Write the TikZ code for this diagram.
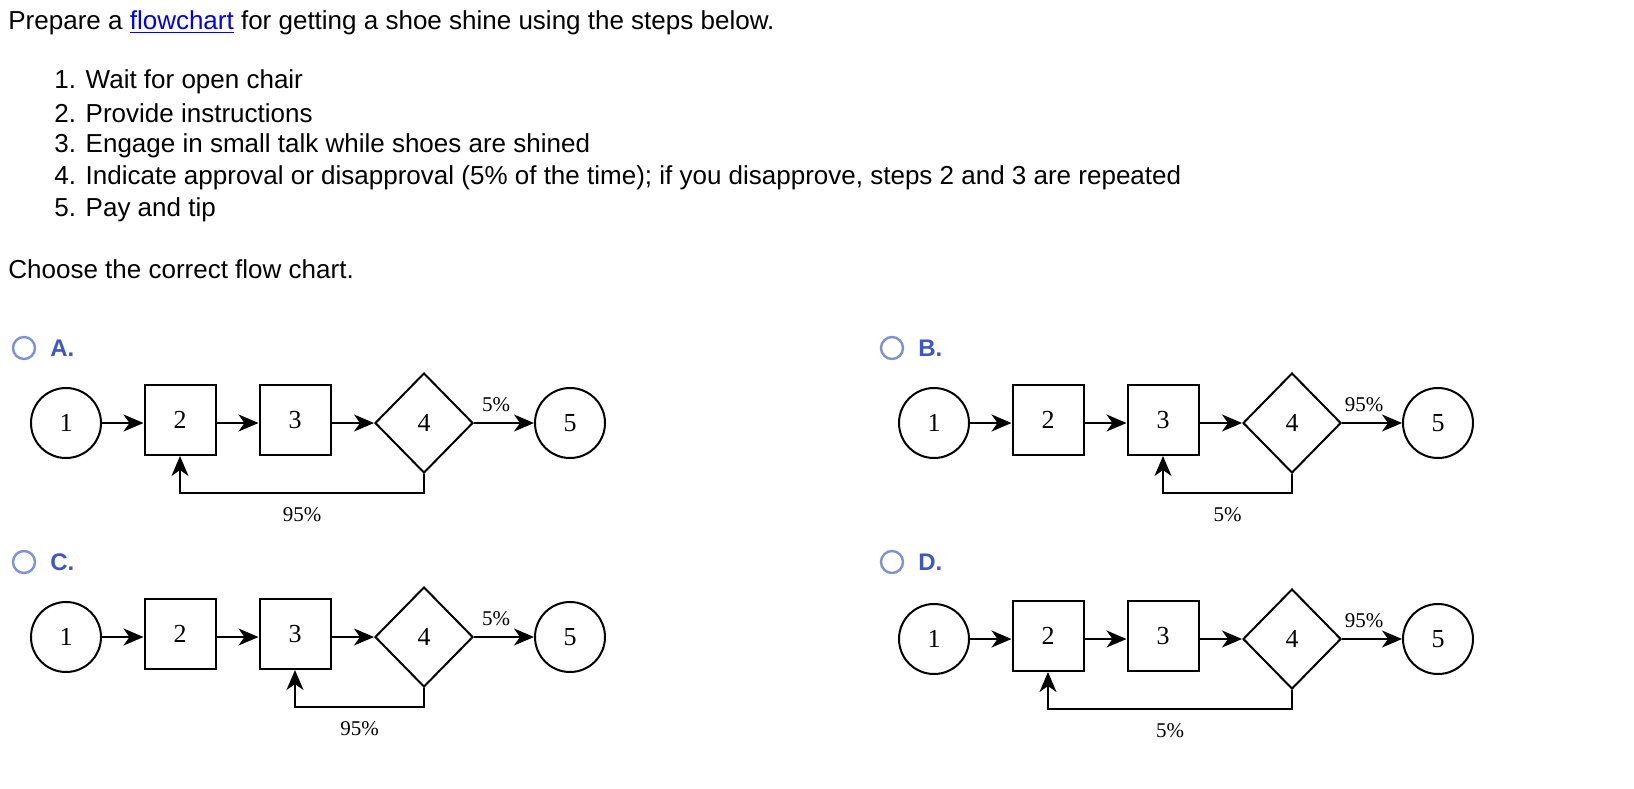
\documentclass[tikz,border=0pt]{standalone}
\usepackage{fontspec}
\setmainfont{Liberation Serif}
\newfontfamily\arial{Liberation Sans}
\usetikzlibrary{shapes.geometric,arrows.meta}
\definecolor{optblue}{HTML}{3F57C4}
\definecolor{ringblue}{HTML}{7D90D8}
\definecolor{linkblue}{HTML}{0000EE}
\tikzset{
  txt/.style={font=\arial\fontsize{13pt}{15pt}\selectfont, anchor=west, inner sep=0},
  optletter/.style={font=\arial\bfseries\fontsize{12pt}{14pt}\selectfont, text=optblue, anchor=west, inner sep=0},
  optring/.style={circle, draw=ringblue, line width=1.2pt, minimum size=11pt, inner sep=0},
  circ/.style={ellipse, draw, line width=1pt, minimum width=35pt, minimum height=35pt, inner sep=0, font=\fontsize{13pt}{15pt}\selectfont},
  boxn/.style={rectangle, draw, line width=1pt, minimum width=35.5pt, minimum height=35pt, inner sep=0, font=\fontsize{13pt}{15pt}\selectfont},
  dia/.style={diamond, draw, line width=1pt, minimum width=49pt, minimum height=50pt, inner sep=0, font=\fontsize{13pt}{15pt}\selectfont},
  conn/.style={line width=1pt, -{Stealth[length=10pt, width=8.5pt, inset=3pt]}},
  pct/.style={font=\fontsize{10.5pt}{12pt}\selectfont, inner sep=0}
}
\newcommand\shoeflow[6]{% prefix, ox, oy, loop target (b2/b3), top label, bottom label
  \begin{scope}[shift={(#2,#3)}]
  \node[circ] (#1c1) at (66,423) {1};
  \node[boxn] (#1b2) at (180,420) {2};
  \node[boxn] (#1b3) at (295,420) {3};
  \node[dia] (#1d4) at (424,423) {4};
  \node[circ] (#1c5) at (570,423) {5};
  \draw[conn] (#1c1.east) -- (#1b2.west |- #1c1.east);
  \draw[conn] (#1b2.east |- #1c1.east) -- (#1b3.west |- #1c1.east);
  \draw[conn] (#1b3.east |- #1c1.east) -- (#1d4.west);
  \draw[conn] (#1d4.east) -- (#1c5.west);
  \node[pct] (#1tl) at (496,405) {#5};
  \coordinate (#1lp) at (424,493);
  \draw[conn] (#1d4.south) -- (#1lp) -| (#1#4.south)
     node[pct, pos=0.25, below=7pt] (#1bl) {#6};
  \end{scope}
}
\begin{document}
\begin{tikzpicture}[x=0.5pt,y=-0.5pt]
\useasboundingbox (0,0) rectangle (1634,788);
\node[txt] (title) at (8,23) {Prepare a \textcolor{linkblue}{\underline{flowchart}} for getting a shoe shine using the steps below.};
\node[txt] (s1) at (54,82) {1. Wait for open chair};
\node[txt] (s2) at (54,113) {2. Provide instructions};
\node[txt] (s3) at (54,146) {3. Engage in small talk while shoes are shined};
\node[txt] (s4) at (54,178) {4. Indicate approval or disapproval (5\% of the time); if you disapprove, steps 2 and 3 are repeated};
\node[txt] (s5) at (54,210) {5. Pay and tip};
\node[txt] (choose) at (8,269) {Choose the correct flow chart.};
\node[optring] (ra) at (24,348) {}; \node[optletter] (la) at (50,348) {A.};
\node[optring] (rb) at (892,348) {}; \node[optletter] (lb) at (918,348) {B.};
\node[optring] (rc) at (24,562) {}; \node[optletter] (lc) at (50,562) {C.};
\node[optring] (rd) at (892,562) {}; \node[optletter] (ld) at (918,562) {D.};
\shoeflow{A}{0}{0}{b2}{5\%}{95\%}
\shoeflow{B}{868}{0}{b3}{95\%}{5\%}
\shoeflow{C}{0}{214}{b3}{5\%}{95\%}
\shoeflow{D}{868}{216}{b2}{95\%}{5\%}
\end{tikzpicture}
\end{document}
